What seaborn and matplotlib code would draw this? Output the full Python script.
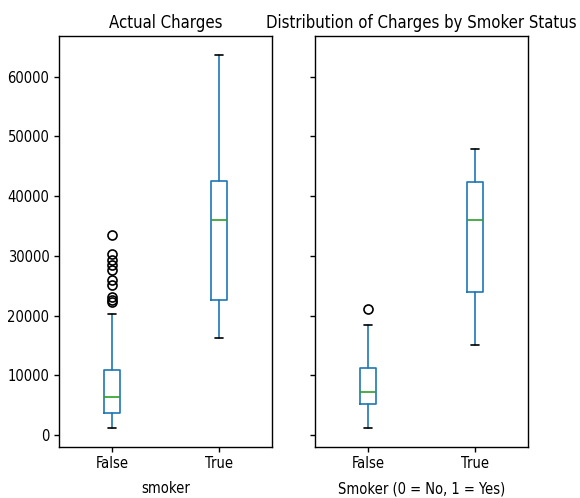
import matplotlib
matplotlib.use("Agg")
import matplotlib.pyplot as plt
import seaborn as sns

# Box statistics for insurance charges, split by smoker status
groups = ["False", "True"]

# Left panel: actual charges
actual_whislo = [1230, 16240]
actual_q1 = [3650, 22560]
actual_med = [6330, 36000]
actual_q3 = [10970, 42500]
actual_whishi = [20330, 63720]
actual_fliers = [
    [33500, 30300, 29300, 28400, 27600, 26000, 25200, 23200, 22700, 22300],
    [],
]

# Right panel: charges by smoker status
status_whislo = [1180, 15120]
status_q1 = [5150, 23970]
status_med = [7280, 36000]
status_q3 = [11200, 42330]
status_whishi = [18430, 47870]
status_fliers = [[21050], []]

sns.set_style("ticks")
plt.rcParams["font.family"] = ["DejaVu Sans"]
plt.rcParams["font.stretch"] = "condensed"
plt.rcParams["text.color"] = "black"
plt.rcParams["axes.edgecolor"] = "black"
plt.rcParams["xtick.color"] = "black"
plt.rcParams["ytick.color"] = "black"
plt.rcParams["axes.labelcolor"] = "black"


def make_stats(lo, q1, med, q3, hi, fliers):
    return [
        dict(label=g, whislo=a, q1=b, med=c, q3=d, whishi=e, fliers=f)
        for g, a, b, c, d, e, f in zip(groups, lo, q1, med, q3, hi, fliers)
    ]


blue = "#1f77b4"
green = "#2ca02c"
lw = 1.2
style = dict(
    widths=0.15,
    patch_artist=False,
    boxprops=dict(color=blue, linewidth=lw),
    whiskerprops=dict(color=blue, linewidth=lw),
    medianprops=dict(color=green, linewidth=lw),
    capprops=dict(color="black", linewidth=lw),
    flierprops=dict(marker="o", markerfacecolor="none", markeredgewidth=1.2,
                    markeredgecolor="black", markersize=6.5, linestyle="none"),
)

fig, axes = plt.subplots(1, 2, figsize=(5.8, 4.98), dpi=100, sharey=True)
fig.subplots_adjust(left=0.102, right=0.911, top=0.928, bottom=0.103,
                    wspace=0.2)

panels = [
    (make_stats(actual_whislo, actual_q1, actual_med, actual_q3,
                actual_whishi, actual_fliers),
     "Actual Charges", "smoker"),
    (make_stats(status_whislo, status_q1, status_med, status_q3,
                status_whishi, status_fliers),
     "Distribution of Charges by Smoker Status", "Smoker (0 = No, 1 = Yes)"),
]

for ax, (stats, title, xlabel) in zip(axes, panels):
    ax.bxp(stats, positions=[1, 2], **style)
    ax.set_xlim(0.5, 2.5)
    ax.set_title(title, fontsize=12)
    ax.set_xlabel(xlabel, fontsize=10.5, labelpad=7)
    ax.tick_params(labelsize=10.5, length=3.5, width=1.0)
    for s in ax.spines.values():
        s.set_linewidth(1.0)
        s.set_visible(True)

fig.savefig("out.png", dpi=100)
